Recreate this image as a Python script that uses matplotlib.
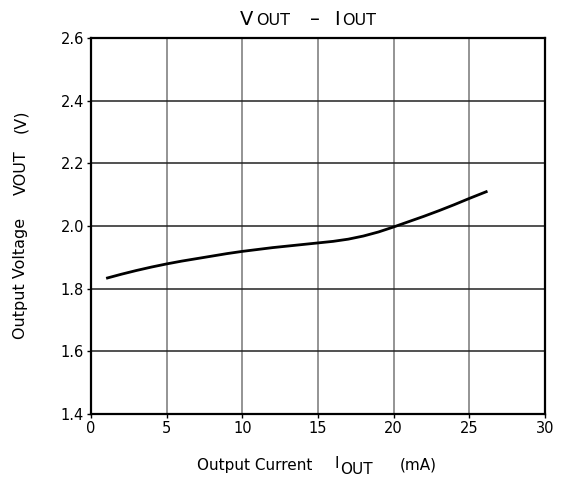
import matplotlib.pyplot as plt

# data
i_out = [1, 2, 3, 4, 5, 6, 7, 8, 9, 10, 11, 12, 13, 14, 15, 16, 17, 18, 19, 20,
         21, 22, 23, 24, 25, 26.2]
v_out = [1.833, 1.846, 1.858, 1.869, 1.879, 1.888, 1.896, 1.904, 1.912, 1.919,
         1.925, 1.931, 1.936, 1.941, 1.946, 1.951, 1.958, 1.968, 1.981, 1.997,
         2.014, 2.031, 2.049, 2.068, 2.088, 2.111]

x_ticks = [0, 5, 10, 15, 20, 25, 30]
y_ticks = [1.4, 1.6, 1.8, 2.0, 2.2, 2.4, 2.6]

W, H = 562, 482

fig = plt.figure(figsize=(W / 100, H / 100), dpi=100)
ax = fig.add_axes([91 / W, 1 - 414 / H, 454 / W, 376 / H])

ax.plot(i_out, v_out, color='black', linewidth=2.0, solid_capstyle='butt',
        solid_joinstyle='round')

ax.set_xlim(0, 30)
ax.set_ylim(1.4, 2.6)
ax.set_xticks(x_ticks)
ax.set_yticks(y_ticks)
ax.set_yticklabels(['%.1f' % v for v in y_ticks])
ax.tick_params(direction='out', length=3, width=1, labelsize=10.5, pad=2)
ax.xaxis.grid(True, color='#777777', linewidth=1.1)
ax.yaxis.grid(True, color='#222222', linewidth=1.1)
for s in ax.spines.values():
    s.set_linewidth(1.6)


def put(x, y, txt, size, ha='left', rot=0):
    # x, y in pixels from the top-left corner
    if rot:
        fig.text(x / W, 1 - y / H, txt, fontsize=size, rotation=90, ha='center', va='center')
    else:
        fig.text(x / W, 1 - y / H, txt, fontsize=size, ha=ha, va='baseline')


# title: V OUT  -  I OUT
put(240, 25, 'V', 14)
put(256, 25, 'OUT', 11.5)
put(315, 25, '\u2013', 14, ha='center')
put(334, 25, 'I', 14)
put(342, 25, 'OUT', 11.5)

# x label
put(197, 470, 'Output Current', 11)
put(335, 468, 'I', 11)
put(340, 473.5, 'OUT', 11)
put(400, 469, '(mA)', 11)

# y label
put(21, 278.5, 'Output Voltage', 11.5, rot=90)
put(21, 172.5, 'VOUT', 11.5, rot=90)
put(21, 121, '(V)', 11.5, rot=90)

fig.savefig('out.png', dpi=100)
